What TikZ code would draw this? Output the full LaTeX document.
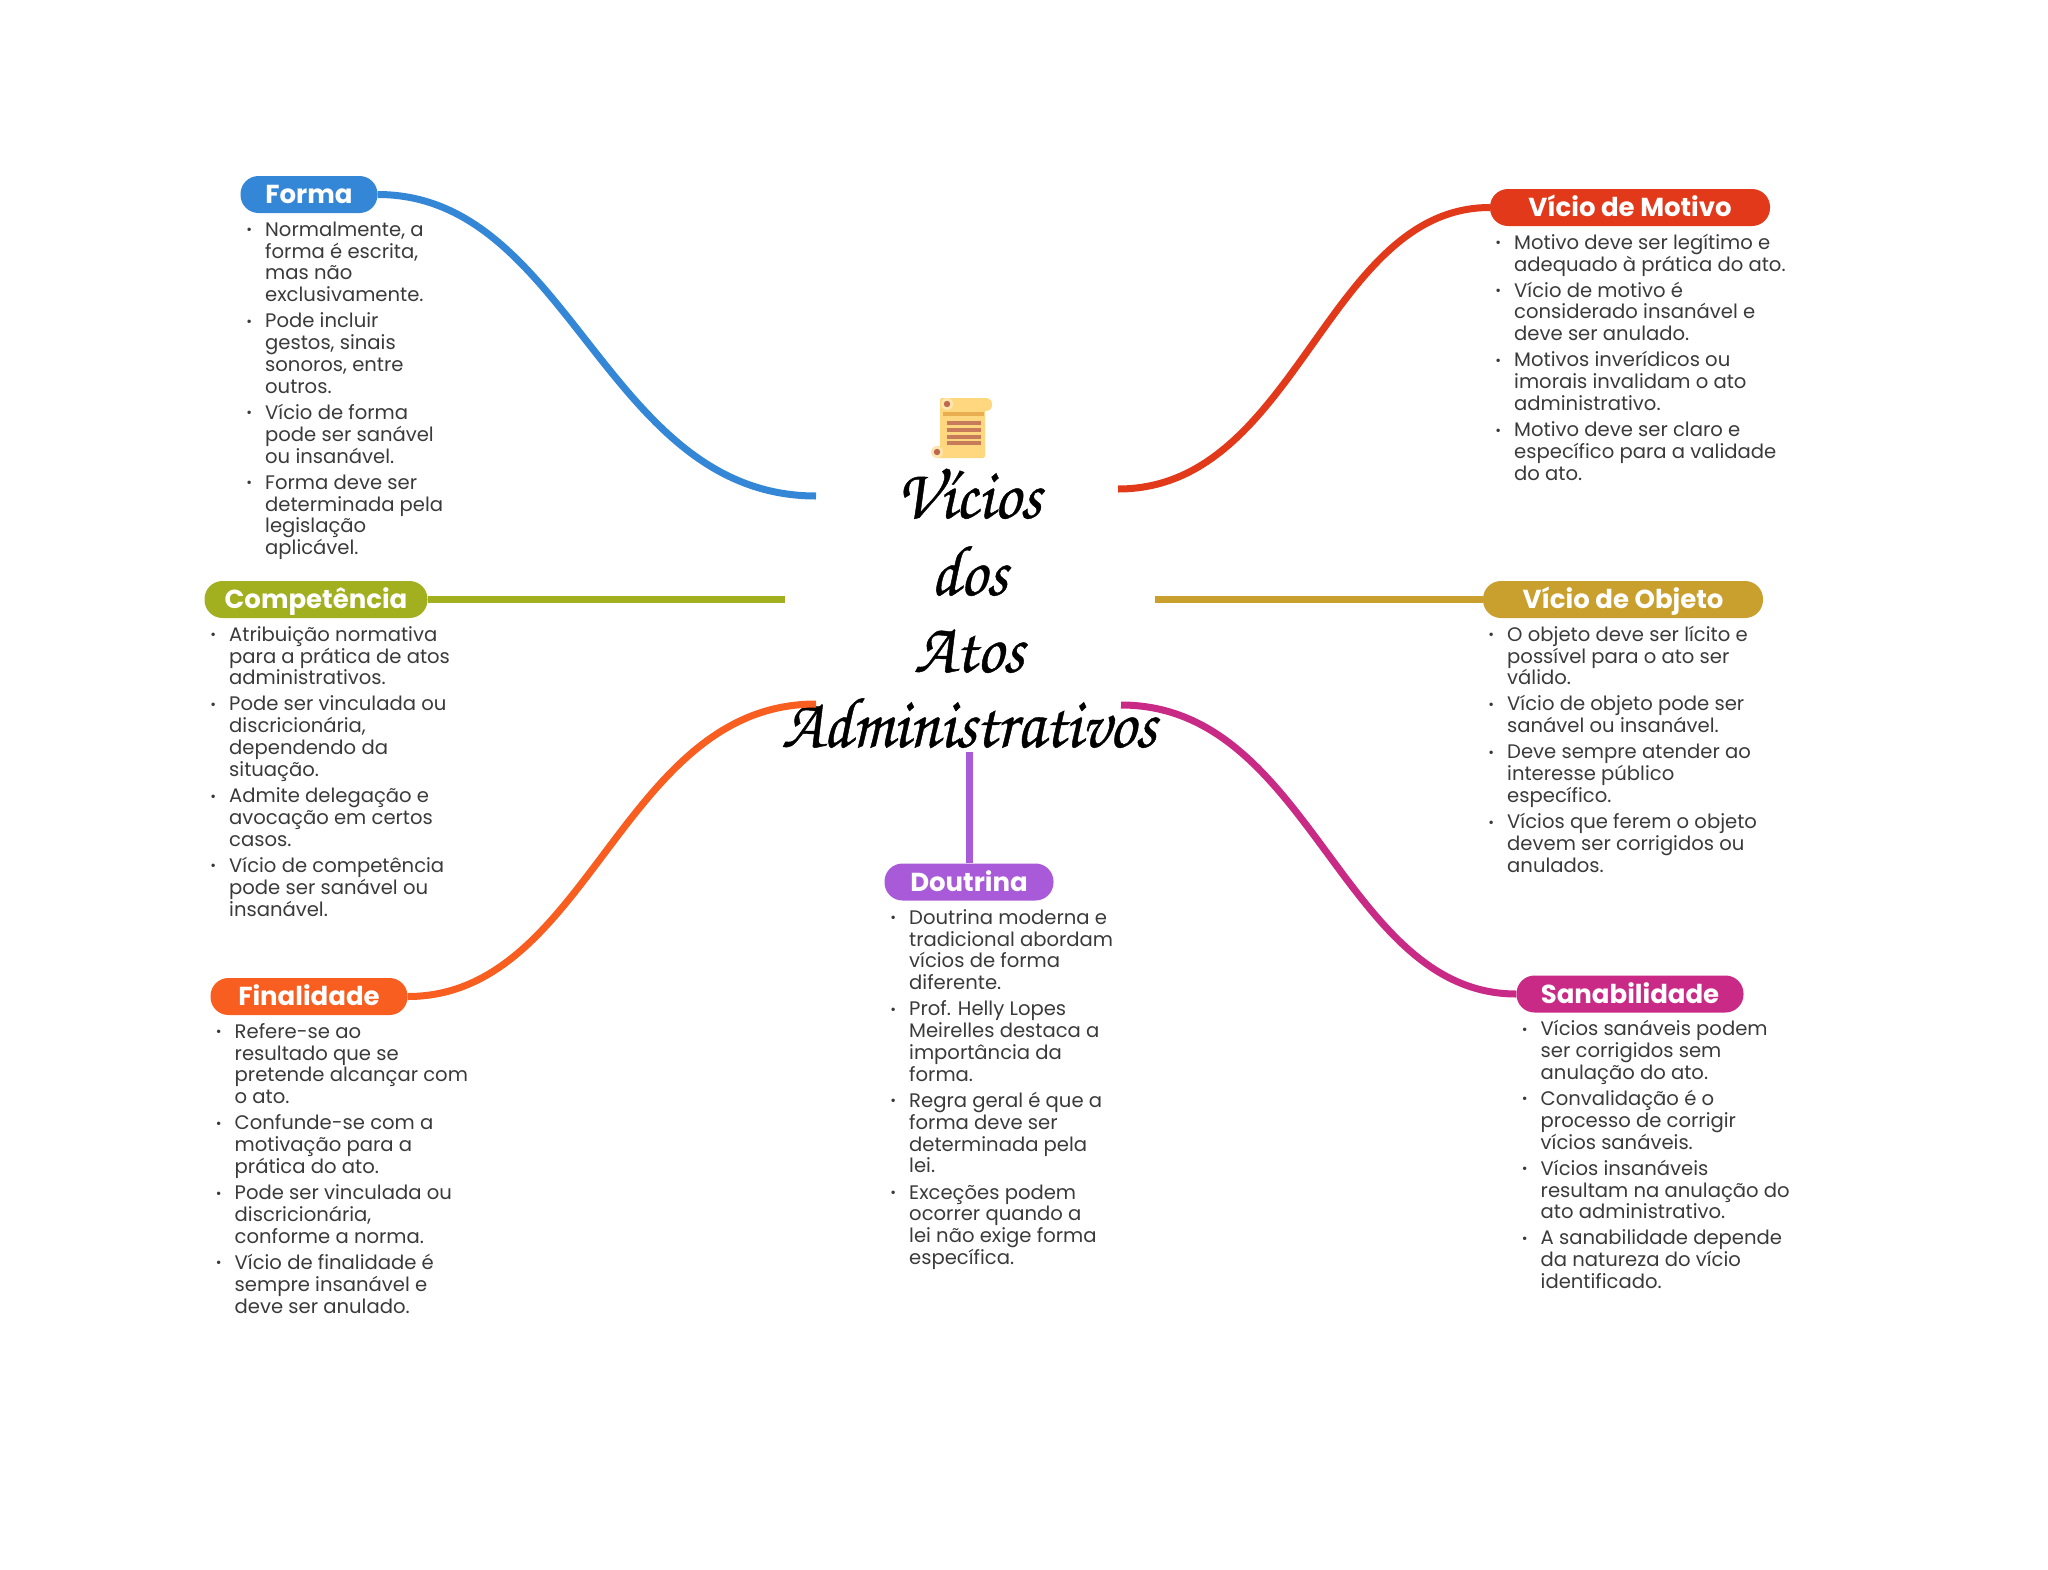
\documentclass[tikz,border=0pt]{standalone}
\usepackage{fontspec}
\setmainfont{Poppins}
\newfontfamily\pillfont{Poppins Bold}
\newfontfamily\titlefont[FakeStretch=0.92,FakeBold=0.6]{TeX Gyre Chorus}
\definecolor{cBlue}{HTML}{3487D6}
\definecolor{cRed}{HTML}{E3391B}
\definecolor{cOlive}{HTML}{A2AF1F}
\definecolor{cGold}{HTML}{C9A02E}
\definecolor{cOrange}{HTML}{F75E20}
\definecolor{cMagenta}{HTML}{C92A86}
\definecolor{cPurple}{HTML}{A95AD8}
\definecolor{cBody}{HTML}{3A3A3A}
\newcommand{\itm}{\llap{\raisebox{1.5pt}{\fontsize{14}{14}\selectfont •}\hspace{13pt}}}
\newcommand{\first}{\rule{0pt}{16pt}}
\tikzset{
  x=1pt,y=-1pt,
  pill/.style={fill=#1,text=white,rounded corners=18pt,inner sep=0pt,minimum height=37pt,
    text height=18pt,text depth=0pt,
    font=\pillfont\fontsize{26}{30}\selectfont},
  bodytext/.style={anchor=north west,inner sep=0pt,align=left,text=cBody,
    font=\fontsize{19.6}{21.85}\selectfont},
  titleline/.style={anchor=base,inner sep=0pt,font=\titlefont\fontsize{72}{80}\selectfont},
  link/.style={line width=7pt,#1},
}
\definecolor{scYellow}{HTML}{FFD77F}
\definecolor{scRing}{HTML}{FFE6AE}
\definecolor{scBand}{HTML}{E8AE4F}
\definecolor{scLine}{HTML}{C77B5A}
\definecolor{scDot}{HTML}{C0674F}
\begin{document}
\begin{tikzpicture}
\useasboundingbox (0,0) rectangle (2048,1569);
% icon
\fill[scYellow,rounded corners=2pt] (940,398) rectangle (985,458);
\fill[scYellow,rounded corners=6pt] (940,398) rectangle (992,411);
\fill[scYellow,rounded corners=5pt] (932,446) rectangle (950,458);
\fill[scBand] (943,412) rectangle (984,415.5);
\foreach \yy in {423,430,437,443}{\fill[scLine] (947,\yy-1.7) rectangle (981,\yy+1.7);}
\fill[scRing] (947,404) circle (6);
\fill[scRing] (937,452) circle (6);
\fill[scDot] (947,404) circle (3.2);
\fill[scDot] (937,452) circle (3.2);
% title
\node[titleline] (t1) at (969,518) {Vícios};
\node[titleline] (t2) at (969,595) {dos};
\node[titleline] (t3) at (969,672) {Atos};
\node[titleline] (t4) at (969,747) {Administrativos};
% pills
\node[pill=cBlue,minimum width=137pt] (forma) at (309,194.5) {Forma};
\node[pill=cOlive,minimum width=223pt] (comp) at (316,599.5) {Competência};
\node[pill=cOrange,minimum width=197pt] (fin) at (309,996.5) {Finalidade};
\node[pill=cPurple,minimum width=169pt] (dout) at (969,882) {Doutrina};
\node[pill=cRed,minimum width=280pt] (mot) at (1630,207.5) {Vício de Motivo};
\node[pill=cGold,minimum width=280pt] (obj) at (1623,599.5) {Vício de Objeto};
\node[pill=cMagenta,minimum width=227pt] (san) at (1630,994) {Sanabilidade};
% free ends
\coordinate (eForma) at (816,496);
\coordinate (eMot) at (1118,489);
\coordinate (eComp) at (785,599.5);
\coordinate (eObj) at (1155,599.5);
\coordinate (eFin) at (816,704);
\coordinate (eSan) at (1121,705);
\coordinate (eDout) at (969,752);
% connectors
\draw[link=cBlue] (forma.east) .. controls (570,194.5) and (605,496) .. (eForma);
\draw[link=cRed] (mot.west) .. controls (1326,207.5) and (1297,489) .. (eMot);
\draw[link=cOlive] (comp.east) -- (eComp);
\draw[link=cGold] (obj.west) -- (eObj);
\draw[link=cOrange] (fin.east) .. controls (589,996.5) and (621,704) .. (eFin);
\draw[link=cMagenta] (san.west) .. controls (1342,994) and (1311,705) .. (eSan);
\draw[link=cPurple] (dout.north) -- (eDout);
% texts
\node[bodytext] (tForma) at (265,220) {\first\itm Normalmente, a\\forma é escrita,\\mas não\\exclusivamente.\\[4.2pt]
\itm Pode incluir\\gestos, sinais\\sonoros, entre\\outros.\\[4.2pt]
\itm Vício de forma\\pode ser sanável\\ou insanável.\\[4.2pt]
\itm Forma deve ser\\determinada pela\\legislação\\aplicável.};
\node[bodytext] (tComp) at (229,625) {\first\itm Atribuição normativa\\para a prática de atos\\administrativos.\\[4.2pt]
\itm Pode ser vinculada ou\\discricionária,\\dependendo da\\situação.\\[4.2pt]
\itm Admite delegação e\\avocação em certos\\casos.\\[4.2pt]
\itm Vício de competência\\pode ser sanável ou\\insanável.};
\node[bodytext] (tFin) at (234.5,1022) {\first\itm Refere-se ao\\resultado que se\\pretende alcançar com\\o ato.\\[4.2pt]
\itm Confunde-se com a\\motivação para a\\prática do ato.\\[4.2pt]
\itm Pode ser vinculada ou\\discricionária,\\conforme a norma.\\[4.2pt]
\itm Vício de finalidade é\\sempre insanável e\\deve ser anulado.};
\node[bodytext] (tDout) at (909,908) {\first\itm Doutrina moderna e\\tradicional abordam\\vícios de forma\\diferente.\\[4.2pt]
\itm Prof. Helly Lopes\\Meirelles destaca a\\importância da\\forma.\\[4.2pt]
\itm Regra geral é que a\\forma deve ser\\determinada pela\\lei.\\[4.2pt]
\itm Exceções podem\\ocorrer quando a\\lei não exige forma\\específica.};
\node[bodytext] (tMot) at (1514,233) {\first\itm Motivo deve ser legítimo e\\adequado à prática do ato.\\[4.2pt]
\itm Vício de motivo é\\considerado insanável e\\deve ser anulado.\\[4.2pt]
\itm Motivos inverídicos ou\\imorais invalidam o ato\\administrativo.\\[4.2pt]
\itm Motivo deve ser claro e\\específico para a validade\\do ato.};
\node[bodytext] (tObj) at (1507,625) {\first\itm O objeto deve ser lícito e\\possível para o ato ser\\válido.\\[4.2pt]
\itm Vício de objeto pode ser\\sanável ou insanável.\\[4.2pt]
\itm Deve sempre atender ao\\interesse público\\específico.\\[4.2pt]
\itm Vícios que ferem o objeto\\devem ser corrigidos ou\\anulados.};
\node[bodytext] (tSan) at (1540.5,1019.5) {\first\itm Vícios sanáveis podem\\ser corrigidos sem\\anulação do ato.\\[4.2pt]
\itm Convalidação é o\\processo de corrigir\\vícios sanáveis.\\[4.2pt]
\itm Vícios insanáveis\\resultam na anulação do\\ato administrativo.\\[4.2pt]
\itm A sanabilidade depende\\da natureza do vício\\identificado.};
\end{tikzpicture}
\end{document}
